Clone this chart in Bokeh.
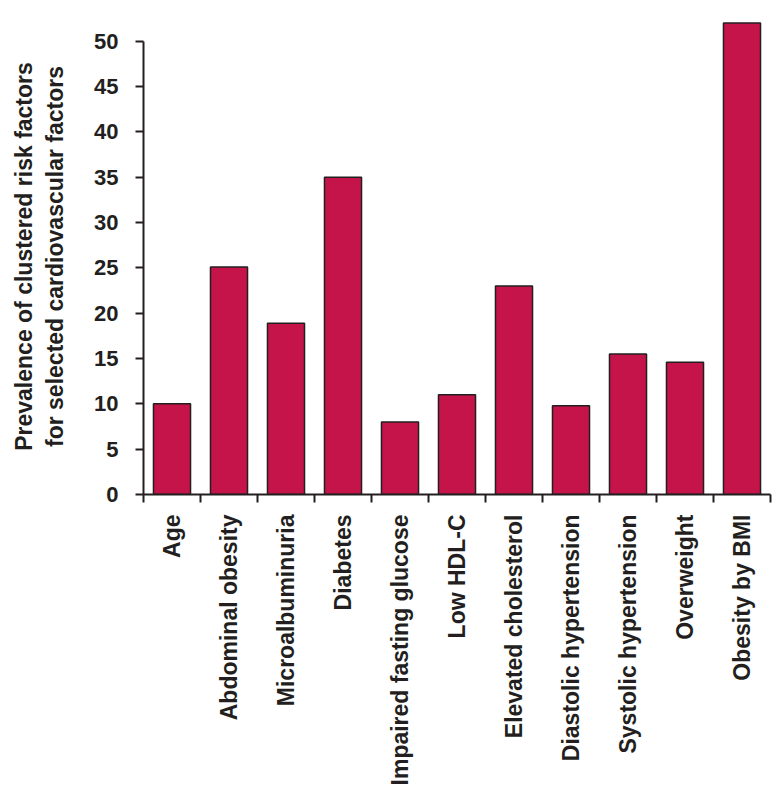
from bokeh.plotting import figure
from bokeh.models import Range1d, FixedTicker, ColumnDataSource
from bokeh.embed import file_html
from bokeh.resources import INLINE

categories = ["Age", "Abdominal obesity", "Microalbuminuria", "Diabetes",
              "Impaired fasting glucose", "Low HDL-C", "Elevated cholesterol",
              "Diastolic hypertension", "Systolic hypertension", "Overweight",
              "Obesity by BMI"]
values = [10.0, 25.1, 18.9, 35.0, 8.0, 11.0, 23.0, 9.8, 15.5, 14.6, 52.0]
y_ticks = [0, 5, 10, 15, 20, 25, 30, 35, 40, 45, 50]

n = len(categories)
centers = [i + 0.5 for i in range(n)]
bounds = list(range(n + 1))

src = ColumnDataSource(dict(x=centers, top=values, cat=categories))

FONT = "Liberation Sans"
DARK = "#231F20"

p = figure(width=772, height=795, output_backend="svg", toolbar_location=None,
           x_range=Range1d(0, n), y_range=Range1d(0, 52.5),
           min_border_left=143, min_border_right=2, min_border_top=18,
           min_border_bottom=301)
p.outline_line_color = None
p.grid.grid_line_color = None
p.background_fill_color = "white"

p.vbar(x="x", top="top", width=0.65, source=src,
       fill_color="#C41449", line_color=DARK, line_width=1.5)

# x axis: labels at centres, ticks at boundaries
xa = p.xaxis[0]
xa.ticker = FixedTicker(ticks=centers, minor_ticks=bounds)
xa.major_label_overrides = {c: lab for c, lab in zip(centers, categories)}
xa.major_label_orientation = 1.5707963
xa.major_tick_out = 0
xa.major_tick_in = 0
xa.minor_tick_out = 8
xa.minor_tick_in = 0
xa.minor_tick_line_color = DARK
xa.minor_tick_line_width = 2
xa.axis_line_color = DARK
xa.axis_line_width = 2
xa.major_label_standoff = 12
xa.major_label_text_font = FONT
xa.major_label_text_font_style = "bold"
xa.major_label_text_font_size = "23px"
xa.major_label_text_color = DARK

ya = p.yaxis[0]
ya.ticker = FixedTicker(ticks=y_ticks)
ya.bounds = (0, 50)
ya.major_tick_out = 8
ya.major_tick_in = 0
ya.minor_tick_out = 0
ya.minor_tick_in = 0
ya.major_tick_line_color = DARK
ya.major_tick_line_width = 2
ya.axis_line_color = DARK
ya.axis_line_width = 2
ya.major_label_standoff = 17
ya.major_label_text_font = FONT
ya.major_label_text_font_style = "bold"
ya.major_label_text_font_size = "22px"
ya.major_label_text_color = DARK
ya.axis_label = "Prevalence of clustered risk factors\nfor selected cardiovascular factors"
ya.axis_label_text_font = FONT
ya.axis_label_text_font_style = "bold"
ya.axis_label_text_font_size = "23px"
ya.axis_label_text_color = DARK
ya.axis_label_standoff = 23

open("out.html", "w").write(file_html(p, INLINE))
